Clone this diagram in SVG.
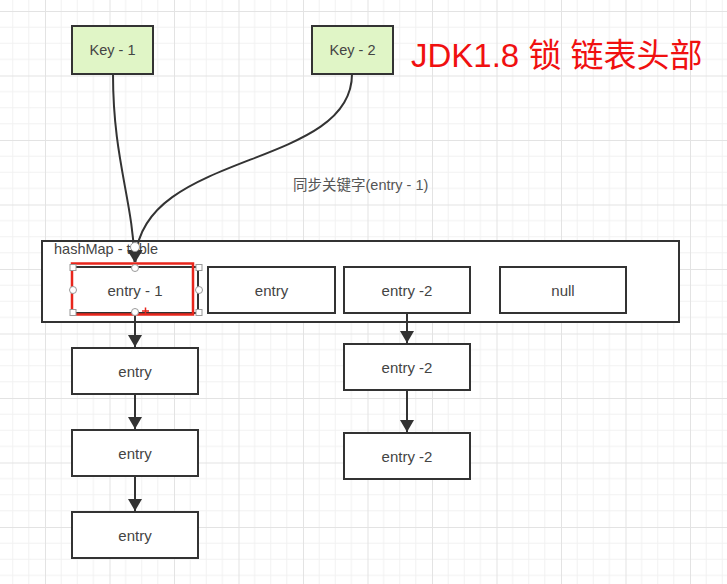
<svg xmlns="http://www.w3.org/2000/svg" width="727" height="584" viewBox="0 0 727 584">
<defs>
<pattern id="grid" patternUnits="userSpaceOnUse" x="45" y="11" width="64.5" height="64.5">
<path d="M16.125 0V64.5M32.25 0V64.5M48.375 0V64.5M0 16.125H64.5M0 32.25H64.5M0 48.375H64.5" stroke="#f1f1f1" stroke-width="1" fill="none"/>
<path d="M0.5 0V64.5M0 0.5H64.5" stroke="#e3e3e3" stroke-width="1" fill="none"/>
</pattern>
<marker id="arr" markerWidth="12" markerHeight="14" refX="10" refY="5" orient="auto" markerUnits="userSpaceOnUse" viewBox="0 0 10 10" preserveAspectRatio="none">
<path d="M0,0 L10,5 L0,10 Z" fill="#333"/>
</marker>
<style>
.box{fill:#fff;stroke:#333;stroke-width:2}
.key{fill:#e0f5c6;stroke:#333;stroke-width:2}
.t{font-family:"Liberation Sans","Noto Sans CJK SC",sans-serif;font-size:15px;fill:#444;text-anchor:middle;dominant-baseline:central}
.ln{stroke:#333;stroke-width:2;fill:none}
.h{fill:#fff;stroke:#999;stroke-width:1}
</style>
</defs>
<rect width="727" height="584" fill="#fff"/>
<rect width="727" height="584" fill="url(#grid)"/>

<g id="table">
<rect x="42" y="241" width="637" height="81" fill="#fff" stroke="#333" stroke-width="2"/>
<text x="54" y="249" class="t" style="text-anchor:start;font-size:14.5px">hashMap - table</text>
</g>

<g id="key1"><rect class="key" x="72" y="26" width="81" height="48"/><text class="t" x="112.5" y="50" style="font-size:14.5px">Key - 1</text></g>
<g id="key2"><rect class="key" x="312" y="26" width="81" height="48"/><text class="t" x="352.5" y="50" style="font-size:14.5px">Key - 2</text></g>

<g id="title"><text x="411" y="67" style="font-family:'Liberation Sans','Noto Sans CJK SC',sans-serif;font-size:33px;fill:#f01010">JDK1.8 锁 链表头部</text></g>

<g id="label"><text x="293" y="185" class="t" style="text-anchor:start;font-size:14.5px;fill:#555">同步关键字(entry - 1)</text></g>

<g id="entry1"><rect class="box" x="72" y="267" width="126" height="46"/><text class="t" x="135" y="290">entry - 1</text></g>
<g id="entryA"><rect class="box" x="208" y="267" width="127" height="46"/><text class="t" x="271.5" y="290">entry</text></g>
<g id="entry2"><rect class="box" x="344" y="267" width="126" height="46"/><text class="t" x="407" y="290">entry -2</text></g>
<g id="null"><rect class="box" x="500" y="267" width="126" height="46"/><text class="t" x="563" y="290">null</text></g>

<g id="e1b"><rect class="box" x="72" y="348" width="126" height="46"/><text class="t" x="135" y="371">entry</text></g>
<g id="e1c"><rect class="box" x="72" y="430" width="126" height="46"/><text class="t" x="135" y="453">entry</text></g>
<g id="e1d"><rect class="box" x="72" y="512" width="126" height="46"/><text class="t" x="135" y="535">entry</text></g>

<g id="e2b"><rect class="box" x="344" y="344" width="126" height="46"/><text class="t" x="407" y="367">entry -2</text></g>
<g id="e2c"><rect class="box" x="344" y="433" width="126" height="46"/><text class="t" x="407" y="456">entry -2</text></g>

<g id="connectors">
<path class="ln" d="M113,74 C113,160 133,200 134.5,262" marker-end="url(#arr)"/>
<path class="ln" d="M352,74 C352,170 137,150 135.5,262" marker-end="url(#arr)"/>
<path class="ln" d="M135,313 V347" marker-end="url(#arr)"/>
<path class="ln" d="M135,394 V429" marker-end="url(#arr)"/>
<path class="ln" d="M135,476 V511" marker-end="url(#arr)"/>
<path class="ln" d="M407,313 V343" marker-end="url(#arr)"/>
<path class="ln" d="M407,390 V432" marker-end="url(#arr)"/>
</g>

<g id="selection">
<circle class="h" cx="135" cy="247" r="4.5"/>
<rect x="72" y="263.5" width="121" height="51" fill="none" stroke="#e8261c" stroke-width="2.5"/>
<rect class="h" x="70" y="264.5" width="6" height="6"/>
<rect class="h" x="196" y="264.5" width="6" height="6"/>
<rect class="h" x="70" y="309.5" width="6" height="6"/>
<rect class="h" x="196" y="309.5" width="6" height="6"/>
<circle class="h" cx="73" cy="290" r="3.5"/>
<circle class="h" cx="199" cy="290" r="3.5"/>
<circle class="h" cx="135" cy="268" r="3.5"/>
<circle class="h" cx="135" cy="312" r="3.5"/>
<path d="M142,311 H149 M145.5,307.5 V314.5" stroke="#e8261c" stroke-width="1.5"/>
</g>
</svg>
